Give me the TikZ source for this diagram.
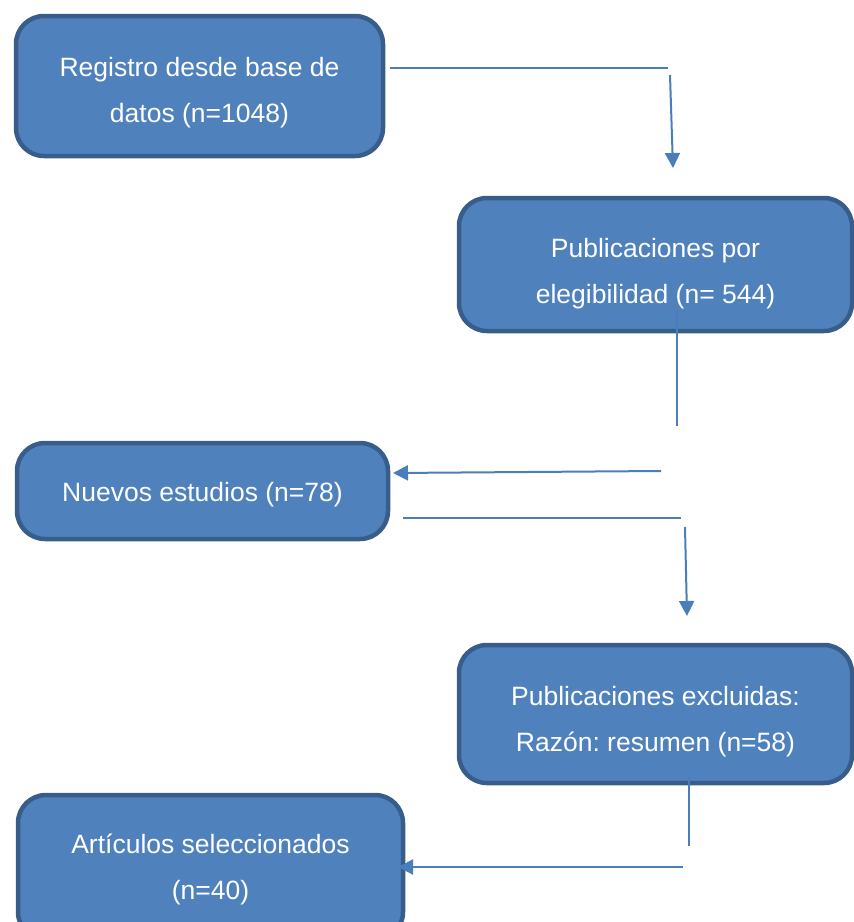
\documentclass[tikz,border=0pt]{standalone}
\usepackage{fontspec}
\setmainfont{Liberation Sans}
\usepackage{xcolor}
\usetikzlibrary{arrows.meta}
\definecolor{boxfill}{HTML}{4F81BD}
\definecolor{boxline}{HTML}{385D8A}
\definecolor{linkcol}{HTML}{4A7EBB}
\newcommand{\flowarrow}{-{Triangle[length=15pt,width=15pt]}}
\newcommand{\padtop}[1]{\rule{0pt}{#1}}
\frenchspacing
\tikzset{
	flowbox/.style={draw=boxline, fill=boxfill, line width=4.5pt, rounded corners=28pt,
		text=white, align=center, inner sep=0pt,
		font=\fontsize{26.5}{46}\selectfont\frenchspacing},
	link/.style={draw=linkcol, line width=2pt},
}

\begin{document}
\begin{tikzpicture}[x=1pt,y=-1pt]
					\clip (0,0) rectangle (854,922);
					\node[flowbox, minimum width=367pt, minimum height=140pt] (registro) at (199.5,86) {\padtop{33pt}Registro desde base de\\datos (n=1048)};
					\node[flowbox, minimum width=393pt, minimum height=133pt] (elegib) at (655.5,264.5) {\padtop{38pt}Publicaciones por\\elegibilidad (n= 544)};
					\node[flowbox, minimum width=371pt, minimum height=96pt] (nuevos) at (202.5,491) {\padtop{27pt}Nuevos estudios (n=78)};
					\node[flowbox, minimum width=393pt, minimum height=138pt] (excl) at (655.5,714) {\padtop{34pt}Publicaciones excluidas:\\Raz\'on: resumen (n=58)};
					\node[flowbox, minimum width=385pt, minimum height=145pt] (selec) at (210.5,867.5) {\padtop{24pt}Art\'iculos seleccionados\\(n=40)};
					\coordinate (c1a) at (390,68);
					\coordinate (c1b) at (668,68);
					\coordinate (c2a) at (670,75);
					\coordinate (c2b) at (673,168);
					\coordinate (c3a) at (677,310);
					\coordinate (c3b) at (677,426);
					\coordinate (c4a) at (661,471);
					\coordinate (c4b) at (393,473);
					\coordinate (c5a) at (403,518);
					\coordinate (c5b) at (681,518);
					\coordinate (c6a) at (685,527);
					\coordinate (c6b) at (687,616);
					\coordinate (c7a) at (689,777);
					\coordinate (c7b) at (689,846);
					\coordinate (c8a) at (683,867);
					\coordinate (c8b) at (398,867);
					\draw[link] (c1a) -- (c1b);
					\draw[link, \flowarrow] (c2a) -- (c2b);
					\draw[link] (c3a) -- (c3b);
					\draw[link, \flowarrow] (c4a) -- (c4b);
					\draw[link] (c5a) -- (c5b);
					\draw[link, \flowarrow] (c6a) -- (c6b);
					\draw[link] (c7a) -- (c7b);
					\draw[link, \flowarrow] (c8a) -- (c8b);
				\end{tikzpicture}
\end{document}
